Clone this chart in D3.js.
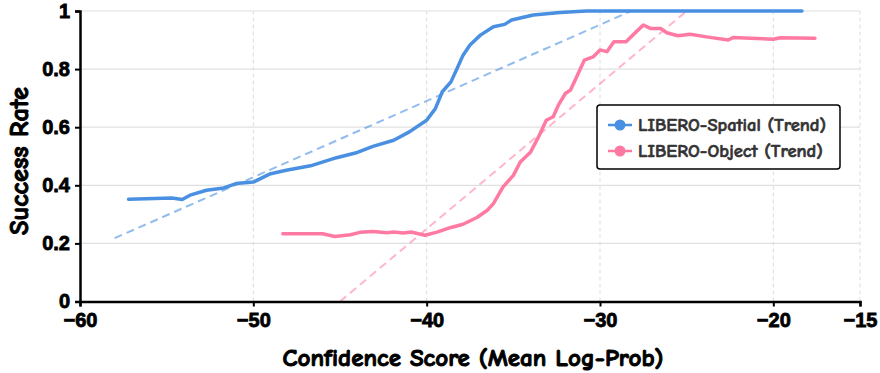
<!DOCTYPE html>
<html lang="en">
<head>
    <meta charset="UTF-8">
    <title>Success Rate vs Confidence</title>
    <style>
        body, html {
            margin: 0;
            padding: 0;
            background: #ffffff;
            overflow: hidden;
        }
        svg {
            font-family: "Comic Sans MS", "Comic Neue", "DejaVu Sans", sans-serif;
        }
        .grid-h line { stroke: #e0e0e0; stroke-width: 1.2px; }
        .grid-v line { stroke: #dddddd; stroke-width: 1px; stroke-dasharray: 4,3; }
        .axis path, .axis line { stroke: #000; }
        /* the installed comic font has no bold face, so thicken with a stroke */
        .axis text { font-size: 20px; font-weight: bold; fill: #000; stroke: #000; stroke-width: 0.8px; }
        .title { font-size: 25px; font-weight: bold; fill: #000; stroke: #000; stroke-width: 1px; }
        .legend text { font-size: 18.5px; fill: #333; font-weight: bold; stroke: #333; stroke-width: 0.6px; }
    </style>
</head>
<body>
<div id="chart"></div>
<script src="https://d3js.org/d3.v7.min.js"></script>
<script>
    // LIBERO-Spatial (blue) trend curve
    const spatialX = [-57.2, -54.7, -54.1, -53.65, -52.7, -51.7, -51.0, -50.0, -49.0, -48.1, -46.7, -45.2, -44.0,
        -43.1, -41.9, -41.0, -40.0, -39.5, -39.1, -38.6, -38.2, -37.9, -37.5, -36.9, -36.15, -35.5, -35.1,
        -33.85, -32.3, -30.8, -18.35];
    const spatialY = [0.352, 0.356, 0.351, 0.366, 0.383, 0.391, 0.406, 0.411, 0.440, 0.452, 0.467, 0.495, 0.513,
        0.534, 0.555, 0.584, 0.624, 0.664, 0.722, 0.756, 0.808, 0.848, 0.883, 0.917, 0.946, 0.954, 0.969,
        0.986, 0.995, 1.0, 1.0];

    // LIBERO-Object (pink) trend curve
    const objectX = [-48.3, -46.0, -45.3, -44.4, -43.85, -43.1, -42.3, -41.9, -41.35, -40.9, -40.1, -39.4, -38.65,
        -37.9, -37.1, -36.5, -36.15, -35.6, -35.0, -34.6, -34.0, -33.5, -33.1, -32.7, -32.4, -32.0, -31.7,
        -31.35, -30.9, -30.4, -30.0, -29.6, -29.2, -28.5, -27.9, -27.5, -27.1, -26.5, -26.15, -25.5, -24.8,
        -23.85, -22.6, -22.3, -21.35, -20.0, -19.6, -17.6];
    const objectY = [0.233, 0.233, 0.224, 0.230, 0.238, 0.241, 0.237, 0.239, 0.236, 0.239, 0.228, 0.239, 0.254,
        0.266, 0.289, 0.314, 0.337, 0.394, 0.434, 0.480, 0.515, 0.572, 0.624, 0.636, 0.676, 0.716, 0.728,
        0.773, 0.831, 0.842, 0.866, 0.860, 0.894, 0.894, 0.929, 0.952, 0.940, 0.940, 0.925, 0.915, 0.920,
        0.911, 0.900, 0.909, 0.906, 0.903, 0.908, 0.906];

    // linear fits (dashed), as end points
    const spatialFitX = [-58.0, -28.2];
    const spatialFitY = [0.218, 1.0];
    const objectFitX = [-45.0, -25.0];
    const objectFitY = [0.0, 1.0];

    const xTicks = [-60, -50, -40, -30, -20, -15];
    const yTicks = [0, 0.2, 0.4, 0.6, 0.8, 1];
    const seriesNames = ["LIBERO-Spatial (Trend)", "LIBERO-Object (Trend)"];
    const colors = ["#4a90e2", "#ff7aa2"];

    const width = 880, height = 373;
    const margin = {top: 11, right: 20, bottom: 72, left: 80};

    const svg = d3.select("#chart").append("svg")
        .attr("width", width)
        .attr("height", height);

    const x = d3.scaleLinear().domain([-60, -15]).range([margin.left, width - margin.right]);
    const y = d3.scaleLinear().domain([0, 1]).range([height - margin.bottom + 0.5, margin.top]);

    // grid
    svg.append("g").attr("class", "grid-h")
        .selectAll("line").data(yTicks.filter(d => d > 0)).enter().append("line")
        .attr("x1", x(-60)).attr("x2", x(-15))
        .attr("y1", d => y(d)).attr("y2", d => y(d));
    svg.append("g").attr("class", "grid-v")
        .selectAll("line").data(xTicks.filter(d => d > -60)).enter().append("line")
        .attr("x1", d => x(d)).attr("x2", d => x(d))
        .attr("y1", y(0)).attr("y2", y(1));

    const line = d3.line().x(d => x(d[0])).y(d => y(d[1]));

    // dashed fits
    const fits = [[spatialFitX, spatialFitY], [objectFitX, objectFitY]];
    fits.forEach((f, i) => {
        svg.append("path")
            .datum(d3.zip(f[0], f[1]))
            .attr("d", line)
            .attr("fill", "none")
            .attr("stroke", colors[i])
            .attr("stroke-opacity", i === 0 ? 0.6 : 0.55)
            .attr("stroke-width", 2)
            .attr("stroke-dasharray", "8,5");
    });

    // curves
    const curves = [[spatialX, spatialY], [objectX, objectY]];
    curves.forEach((c, i) => {
        svg.append("path")
            .datum(d3.zip(c[0], c[1]))
            .attr("d", line)
            .attr("fill", "none")
            .attr("stroke", colors[i])
            .attr("stroke-width", 3.5)
            .attr("stroke-linejoin", "round")
            .attr("stroke-linecap", "round");
    });

    // axes
    const xAxis = svg.append("g").attr("class", "axis")
        .attr("transform", `translate(0,${y(0)})`)
        .call(d3.axisBottom(x).tickValues(xTicks).tickFormat(d3.format("d")).tickSize(5).tickPadding(6));
    xAxis.select(".domain").attr("stroke-width", 2.5);
    xAxis.selectAll(".tick line").attr("stroke-width", 2);

    const yAxis = svg.append("g").attr("class", "axis")
        .attr("transform", `translate(${x(-60)},0)`)
        .call(d3.axisLeft(y).tickValues(yTicks).tickFormat(d => d === 0 || d === 1 ? d : d.toFixed(1)).tickSize(5).tickPadding(5));
    yAxis.select(".domain").attr("stroke-width", 2.5);
    yAxis.selectAll(".tick line").attr("stroke-width", 2);

    // titles
    svg.append("text").attr("class", "title")
        .attr("x", (x(-60) + x(-15)) / 2 + 3).attr("y", 366)
        .attr("text-anchor", "middle")
        .text("Confidence Score (Mean Log-Prob)");
    svg.append("text").attr("class", "title")
        .attr("transform", "translate(28,161) rotate(-90)")
        .attr("text-anchor", "middle")
        .style("font-size", "26.5px")
        .text("Success Rate");

    // legend
    const lg = svg.append("g").attr("class", "legend");
    lg.append("rect")
        .attr("x", 597).attr("y", 105)
        .attr("width", 243).attr("height", 64)
        .attr("rx", 3)
        .attr("fill", "#fff")
        .attr("stroke", "#000")
        .attr("stroke-width", 1.5);
    seriesNames.forEach((name, i) => {
        const cy = 125 + i * 26;
        lg.append("line")
            .attr("x1", 608).attr("x2", 632)
            .attr("y1", cy).attr("y2", cy)
            .attr("stroke", colors[i]).attr("stroke-width", 2.5);
        lg.append("circle")
            .attr("cx", 620).attr("cy", cy).attr("r", 5.5)
            .attr("fill", colors[i]);
        lg.append("text")
            .attr("x", 638).attr("y", cy)
            .attr("dy", "0.35em")
            .text(name);
    });
</script>
</body>
</html>
